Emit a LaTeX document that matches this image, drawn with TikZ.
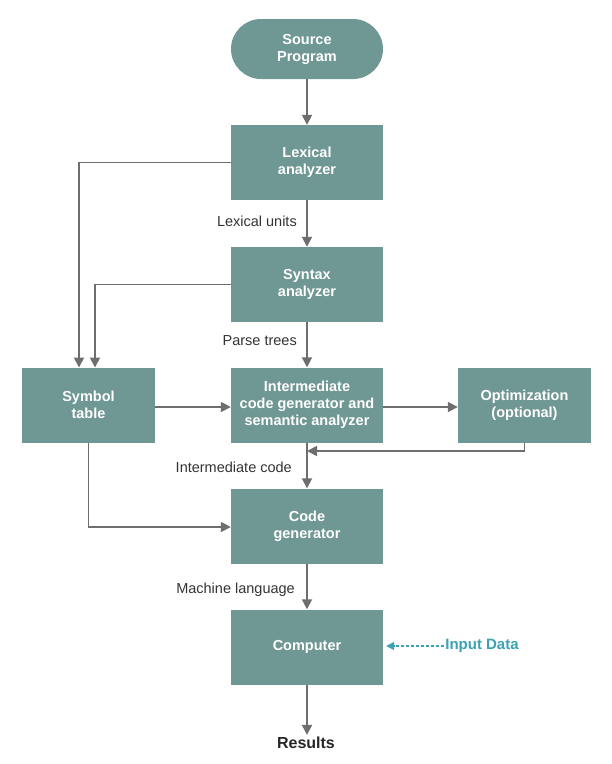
\documentclass[tikz,border=0pt]{standalone}
\usepackage{fontspec}
\setmainfont{Liberation Sans}
\usetikzlibrary{arrows.meta}
\definecolor{boxfill}{HTML}{6F9794}
\definecolor{arrowgray}{HTML}{6E6E6E}
\definecolor{inputcol}{HTML}{3AA2B3}
\tikzset{
  stagebox/.style={draw=none, fill=boxfill, text=white, font=\fontsize{14.5}{17}\selectfont\bfseries, align=center, inner sep=0pt, minimum width=152pt, minimum height=75pt},
  sidebox/.style={stagebox, minimum width=133pt},
  edgelabel/.style={font=\fontsize{14.5}{17}\selectfont, text=black!80, inner sep=0pt},
  arr/.style={draw=arrowgray, line width=1.8pt, -{Triangle[length=10pt,width=10pt]}},
  dasharr/.style={draw=inputcol, line width=1.2pt, dash pattern=on 3pt off 2pt, -{Triangle[length=8pt,width=8pt]}}
}
\begin{document}
\begin{tikzpicture}[x=1pt,y=-1pt]
\useasboundingbox (0,0) rectangle (612,764);
\node[stagebox, minimum height=60pt, rounded corners=30pt] (src) at (307,49) {Source\\Program};
\node[stagebox] (lex) at (307,162.5) {Lexical\\analyzer};
\node[stagebox] (syn) at (307,284.5) {Syntax\\analyzer};
\node[sidebox] (sym) at (88.5,405) {Symbol\\table};
\node[stagebox] (int) at (307,405) {Intermediate\\code generator and\\semantic analyzer};
\node[sidebox] (opt) at (524.5,405) {Optimization\\(optional)};
\node[stagebox] (cg) at (307,526) {Code\\generator};
\node[stagebox] (comp) at (307,647) {Computer};
\node[font=\fontsize{16}{18}\selectfont\bfseries, text=black!85, inner sep=2pt] (res) at (306,743) {Results};
\node[font=\fontsize{15}{17}\selectfont\bfseries, text=inputcol, inner sep=1pt] (inp) at (482,646) {Input Data};

\node[edgelabel, anchor=east] (l1) at (297,221) {Lexical units};
\node[edgelabel, anchor=east] (l2) at (297,341) {Parse trees};
\node[edgelabel, anchor=east] (l3) at (292,467) {Intermediate code};
\node[edgelabel, anchor=east] (l4) at (295,590) {Machine language};

\coordinate (lexdrop) at (79,367.5);
\coordinate (syndrop) at (95,367.5);
\coordinate (merge) at (307,451);

\draw[arr] (src) -- (lex);
\draw[arr] (lex) -- (syn);
\draw[arr] (syn) -- (int);
\draw[arr] (int) -- (cg);
\draw[arr] (cg) -- (comp);
\draw[arr] (comp.south) -- (comp.south |- res.north);
\draw[arr] (lex.west) -| (lexdrop);
\draw[arr] (syn.west) -| (syndrop);
\draw[arr] (sym.east |- 0,407) -- (int.west |- 0,407);
\draw[arr] (int.east |- 0,407) -- (opt.west |- 0,407);
\draw[arr] (opt.south) |- (merge);
\draw[arr] (sym.south) |- (cg.west |- 0,527);
\draw[dasharr, shorten >=3pt] (inp.west) -- (comp.east |- inp.west);
\end{tikzpicture}
\end{document}
